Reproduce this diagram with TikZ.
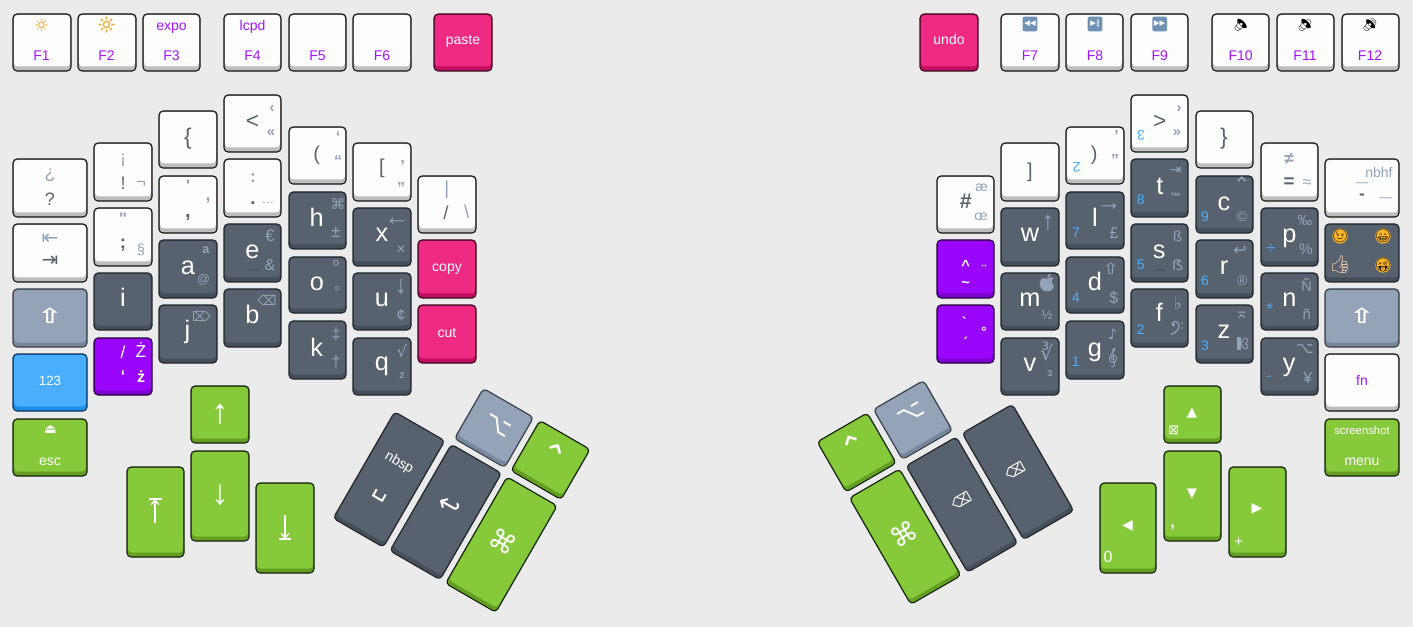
\documentclass[tikz,border=0pt]{standalone}
\usepackage{fontspec}
\setmainfont{Liberation Sans}
\newfontfamily\symfont{DejaVu Sans}
\newfontfamily\emojifont{Noto Emoji}
\usetikzlibrary{calc,arrows.meta}
\definecolor{paper}{HTML}{EBEBEB}
\definecolor{whitetop}{HTML}{FDFDFD}\definecolor{whiteside}{HTML}{BDBDBD}\definecolor{whiteedge}{HTML}{111111}
\definecolor{darktop}{HTML}{58626E}\definecolor{darkside}{HTML}{454E59}\definecolor{darkedge}{HTML}{23272C}
\definecolor{slatetop}{HTML}{94A3B8}\definecolor{slateside}{HTML}{76869C}\definecolor{slateedge}{HTML}{3A4048}
\definecolor{greentop}{HTML}{86CA3C}\definecolor{greenside}{HTML}{649E22}\definecolor{greenedge}{HTML}{141F08}
\definecolor{pinktop}{HTML}{EF2A82}\definecolor{pinkside}{HTML}{C00F60}\definecolor{pinkedge}{HTML}{3A0A20}
\definecolor{purpletop}{HTML}{9A05FB}\definecolor{purpleside}{HTML}{7C00CF}\definecolor{purpleedge}{HTML}{25003D}
\definecolor{bluetop}{HTML}{4AAEFF}\definecolor{blueside}{HTML}{1B8EE8}\definecolor{blueedge}{HTML}{0B3357}
\definecolor{legslate}{HTML}{94A3B8}
\definecolor{legdark}{HTML}{5A6470}
\definecolor{legblue}{HTML}{4AAEFF}
\definecolor{legviolet}{HTML}{A513FF}
\definecolor{sunny}{HTML}{F6A92B}
\definecolor{smiley}{HTML}{FBB62C}
\definecolor{skin}{HTML}{F3CDB0}
\definecolor{mediakey}{HTML}{6F93B5}
\definecolor{lowbar}{HTML}{3F4751}
\tikzset{
  keyside/.style={rectangle,rounded corners=3pt,line width=.8pt,inner sep=0pt,outer sep=0pt},
  keytop/.style={rectangle,rounded corners=2.6pt,inner sep=0pt,outer sep=0pt},
  mainleg/.style={anchor=base,inner sep=0pt,text=white,font=\fontsize{19}{19}\selectfont},
  blackleg/.style={inner sep=0pt,text=legdark,font=\fontsize{17}{17}\selectfont},
  subleg/.style={inner sep=0pt,text=legslate,font=\fontsize{12}{12}\selectfont},
  symleg/.style={inner sep=0pt,text=legslate,font=\symfont\fontsize{11}{11}\selectfont},
  numleg/.style={inner sep=0pt,text=legblue,font=\fontsize{10.5}{11}\selectfont},
  fnleg/.style={anchor=base,inner sep=0pt,text=legviolet,font=\fontsize{10.5}{11}\selectfont},
  wordleg/.style={anchor=base,inner sep=0pt,text=white,font=\fontsize{10.5}{11}\selectfont},
  thumbleg/.style={inner sep=0pt,text=white,font=\symfont\fontsize{17}{17}\selectfont},
  arrowleg/.style={inner sep=0pt,text=white,font=\fontsize{26}{26}\selectfont},
  tinyleg/.style={inner sep=0pt,text=white,font=\symfont\fontsize{10}{10}\selectfont},
  emojileg/.style={inner sep=0pt,text=black,font=\emojifont\fontsize{10}{10}\selectfont},
  facebg/.style={circle,fill=smiley,minimum size=11.5pt,inner sep=0pt},
  mediabg/.style={rectangle,rounded corners=1.5pt,fill=mediakey,minimum width=11pt,minimum height=11pt,inner sep=0pt,text=white,font=\symfont\fontsize{5.5}{6}\selectfont},
  clef/.style={legslate,line width=.7pt},
  barrow/.style={-{Straight Barb[length=3.5pt,width=6pt]},white,line width=1pt},
}
\newcommand{\tiltkey}[7]{%
  \begin{scope}[shift={({#3},{#4})},rotate=#1,transform shape]
    \node[keyside,fill=#7side,draw=#7edge,minimum width={(#5)*.75pt},minimum height={(#6)*.75pt}] (#2) at (0,0) {};
    \node[keytop,fill=#7top,minimum width={((#5)-2.4)*.75pt},minimum height={((#6)-5.6)*.75pt}] (#2top) at (0,-1.7) {};
  \end{scope}}
\newcommand{\keycap}[6]{\tiltkey{0}{#1}{(#2+#4)/2}{(#3+#5)/2}{#4-#2}{#5-#3}{#6}}
\begin{document}
\begin{tikzpicture}[x=.75pt,y=-.75pt]
  \useasboundingbox (0,0) rectangle (1413,627);
  \fill[paper] (0,0) rectangle (1413,627);
  %function row left
  \keycap{fone}{13}{14}{71}{71}{white}
  \keycap{ftwo}{78}{14}{136}{71}{white}
  \keycap{fthree}{143}{14}{200}{71}{white}
  \keycap{ffour}{224}{14}{281}{71}{white}
  \keycap{ffive}{289}{14}{346}{71}{white}
  \keycap{fsix}{353}{14}{411}{71}{white}
  \keycap{paste}{434}{14}{492}{71}{pink}
  %function row right
  \keycap{undo}{920}{14}{978}{71}{pink}
  \keycap{fseven}{1001}{14}{1059}{71}{white}
  \keycap{feight}{1066}{14}{1123}{71}{white}
  \keycap{fnine}{1131}{14}{1188}{71}{white}
  \keycap{ften}{1212}{14}{1269}{71}{white}
  \keycap{feleven}{1277}{14}{1334}{71}{white}
  \keycap{ftwelve}{1342}{14}{1399}{71}{white}
  %left hand columns
  \keycap{quest}{13}{159}{87}{217}{white}
  \keycap{tab}{13}{224}{87}{282}{white}
  \keycap{lshift}{13}{289}{87}{347}{slate}
  \keycap{numlk}{13}{354}{87}{411}{blue}
  \keycap{esc}{13}{419}{87}{476}{green}
  \keycap{bang}{94}{143}{152}{201}{white}
  \keycap{semi}{94}{208}{152}{266}{white}
  \keycap{keyi}{94}{273}{152}{330}{dark}
  \keycap{slash}{94}{338}{152}{395}{purple}
  \keycap{lbrace}{159}{111}{217}{168}{white}
  \keycap{comma}{159}{176}{217}{233}{white}
  \keycap{keya}{159}{240}{217}{298}{dark}
  \keycap{keyj}{159}{305}{217}{363}{dark}
  \keycap{less}{224}{95}{281}{152}{white}
  \keycap{colon}{224}{159}{281}{217}{white}
  \keycap{keye}{224}{224}{281}{282}{dark}
  \keycap{keyb}{224}{289}{281}{347}{dark}
  \keycap{lparen}{289}{127}{346}{184}{white}
  \keycap{keyh}{289}{192}{346}{249}{dark}
  \keycap{keyo}{289}{257}{346}{313}{dark}
  \keycap{keyk}{289}{321}{346}{379}{dark}
  \keycap{lbrack}{353}{143}{411}{201}{white}
  \keycap{keyx}{353}{208}{411}{266}{dark}
  \keycap{keyu}{353}{273}{411}{330}{dark}
  \keycap{keyq}{353}{338}{411}{395}{dark}
  \keycap{bar}{418}{176}{476}{233}{white}
  \keycap{copy}{418}{240}{476}{298}{pink}
  \keycap{cut}{418}{305}{476}{363}{pink}
  %left hand thumbs
  \keycap{up}{191}{386}{249}{443}{green}
  \keycap{down}{191}{451}{249}{541}{green}
  \keycap{home}{127}{467}{184}{557}{green}
  \keycap{endk}{256}{483}{314}{573}{green}
  \tiltkey{-30}{nbsp}{389}{479.5}{58}{123}{dark}
  \tiltkey{-30}{ret}{445.7}{512}{58}{123}{dark}
  \tiltkey{-30}{lcmd}{501.4}{544.6}{58}{123}{green}
  \tiltkey{-30}{lalt}{494}{428}{58}{58}{slate}
  \tiltkey{-30}{lctrl}{550.5}{460}{58}{58}{green}
  %right hand columns
  \keycap{hash}{937}{176}{994}{233}{white}
  \keycap{caret}{937}{240}{994}{298}{purple}
  \keycap{grave}{937}{305}{994}{363}{purple}
  \keycap{rbrack}{1001}{143}{1059}{201}{white}
  \keycap{keyw}{1001}{208}{1059}{266}{dark}
  \keycap{keym}{1001}{273}{1059}{330}{dark}
  \keycap{keyv}{1001}{338}{1059}{395}{dark}
  \keycap{rparen}{1066}{127}{1124}{184}{white}
  \keycap{keyl}{1066}{192}{1124}{249}{dark}
  \keycap{keyd}{1066}{257}{1124}{313}{dark}
  \keycap{keyg}{1066}{321}{1124}{379}{dark}
  \keycap{more}{1131}{95}{1188}{152}{white}
  \keycap{keyt}{1131}{159}{1188}{217}{dark}
  \keycap{keys}{1131}{224}{1188}{282}{dark}
  \keycap{keyf}{1131}{289}{1188}{347}{dark}
  \keycap{rbrace}{1196}{111}{1253}{168}{white}
  \keycap{keyc}{1196}{176}{1253}{233}{dark}
  \keycap{keyr}{1196}{240}{1253}{298}{dark}
  \keycap{keyz}{1196}{305}{1253}{363}{dark}
  \keycap{equal}{1261}{143}{1318}{201}{white}
  \keycap{keyp}{1261}{208}{1318}{266}{dark}
  \keycap{keyn}{1261}{273}{1318}{330}{dark}
  \keycap{keyy}{1261}{338}{1318}{395}{dark}
  \keycap{nbhf}{1325}{159}{1399}{217}{white}
  \keycap{emoji}{1325}{224}{1399}{282}{dark}
  \keycap{rshift}{1325}{289}{1399}{347}{slate}
  \keycap{fnkey}{1325}{354}{1399}{411}{white}
  \keycap{menu}{1325}{419}{1399}{476}{green}
  %right hand thumbs
  \keycap{arup}{1164}{386}{1221}{443}{green}
  \keycap{ardn}{1164}{451}{1221}{541}{green}
  \keycap{arrt}{1229}{467}{1286}{557}{green}
  \keycap{arlf}{1100}{483}{1156}{573}{green}
  \tiltkey{30}{rctrl}{856.7}{452.5}{58}{58}{green}
  \tiltkey{30}{ralt}{913}{420}{58}{58}{slate}
  \tiltkey{30}{rcmd}{905.2}{536.7}{58}{123}{green}
  \tiltkey{30}{bksp}{961.9}{504.6}{58}{123}{dark}
  \tiltkey{30}{delk}{1018}{472}{58}{123}{dark}
  %function row labels
  \node[inner sep=0pt,text=sunny,font=\emojifont\fontsize{9}{9}\selectfont] (sunlo) at (41.5,25) {🔅};
  \node[fnleg] (fonet) at (41.5,60.5) {F1};
  \node[inner sep=0pt,text=sunny,font=\emojifont\fontsize{12}{12}\selectfont] (sunhi) at (106.5,25) {🔆};
  \node[fnleg] (ftwot) at (106.5,60.5) {F2};
  \node[fnleg] (expo) at (171.5,31) {expo};
  \node[fnleg] (fthreet) at (171.5,60.5) {F3};
  \node[fnleg] (lcpd) at (252.5,31) {lcpd};
  \node[fnleg] (ffourt) at (252.5,60.5) {F4};
  \node[fnleg] (ffivet) at (317.5,60.5) {F5};
  \node[fnleg] (fsixt) at (382,60.5) {F6};
  \node[wordleg] (pastet) at (463,45) {paste};
  \node[wordleg] (undot) at (949,45) {undo};
  \node[mediabg] (rew) at (1030,24) {◀◀};
  \node[fnleg] (fsevent) at (1030,60.5) {F7};
  \node[mediabg] (play) at (1095,24) {▶‖};
  \node[fnleg] (feightt) at (1095,60.5) {F8};
  \node[mediabg] (ffw) at (1159.7,24) {▶▶};
  \node[fnleg] (fninet) at (1159.7,60.5) {F9};
  \node[emojileg,font=\emojifont\fontsize{9}{9}\selectfont] (mute) at (1240.7,25) {🔈};
  \node[fnleg] (ftent) at (1240.7,60.5) {F10};
  \node[emojileg,font=\emojifont\fontsize{9}{9}\selectfont] (vold) at (1305,25) {🔉};
  \node[fnleg] (felevent) at (1305,60.5) {F11};
  \node[emojileg,font=\emojifont\fontsize{9}{9}\selectfont] (volu) at (1370,25) {🔊};
  \node[fnleg] (ftwelvet) at (1370,60.5) {F12};
  %left white keys labels
  \node[subleg,font=\fontsize{13.5}{14}\selectfont] (iquest) at (50,175) {¿};
  \node[subleg,text=legdark,font=\fontsize{13.5}{14}\selectfont] (questt) at (50,199) {?};
  \node[symleg,font=\symfont\fontsize{15}{15}\selectfont] (backtab) at (50,239) {⇤};
  \node[symleg,text=legdark,font=\symfont\fontsize{15}{15}\selectfont] (tabt) at (50,261) {⇥};
  \node[subleg,font=\fontsize{13.5}{14}\selectfont] (ibang) at (123,160) {¡};
  \node[subleg,text=legdark,font=\fontsize{13.5}{14}\selectfont] (bangt) at (123,183) {!};
  \node[subleg,font=\fontsize{12.5}{13}\selectfont] (notk) at (141,184) {¬};
  \node[subleg,font=\bfseries\fontsize{12.5}{13}\selectfont] (dquote) at (123,219) {\textquotedbl};
  \node[subleg,text=legdark,font=\bfseries\fontsize{14}{14}\selectfont] (semit) at (123,245) {;};
  \node[subleg,font=\fontsize{11}{11}\selectfont] (sect) at (141,250) {§};
  \node[blackleg] (lbracet) at (188,139) {\{};
  \node[subleg,font=\bfseries\fontsize{12.5}{13}\selectfont] (squote) at (188,186) {\textquotesingle};
  \node[subleg,text=legdark,font=\bfseries\fontsize{15}{15}\selectfont] (commat) at (188,218) {,};
  \node[subleg,font=\bfseries\fontsize{13}{13}\selectfont] (lowq) at (208,201) {,};
  \node[blackleg] (lesst) at (252.5,122) {<};
  \node[subleg,font=\bfseries\fontsize{11}{11}\selectfont] (sangl) at (272,109) {‹};
  \node[subleg,font=\bfseries\fontsize{11}{11}\selectfont] (dangl) at (271,133) {«};
  \node[subleg,font=\bfseries\fontsize{13}{13}\selectfont] (colont) at (253,178) {:};
  \node[subleg,text=legdark,font=\bfseries\fontsize{14}{14}\selectfont] (dot) at (253,203) {.};
  \node[subleg,font=\fontsize{9.5}{10}\selectfont] (ellip) at (268,203) {…};
  \node[blackleg,font=\fontsize{15}{15}\selectfont] (lparent) at (316.7,155) {(};
  \node[subleg,font=\bfseries\fontsize{12}{12}\selectfont] (lsq) at (338,137) {‘};
  \node[subleg,font=\bfseries\fontsize{12}{12}\selectfont] (ldq) at (338,161) {“};
  \node[blackleg,font=\fontsize{15}{15}\selectfont] (lbrackt) at (382,168) {[};
  \node[subleg,font=\bfseries\fontsize{12}{12}\selectfont] (rsq) at (402.7,166) {’};
  \node[subleg,font=\bfseries\fontsize{12}{12}\selectfont] (rdq) at (401,188) {”};
  \node[subleg,font=\fontsize{14}{14}\selectfont] (bart) at (446.7,190) {|};
  \node[blackleg,font=\fontsize{14}{14}\selectfont] (slasht) at (446,213) {/};
  \node[subleg,font=\fontsize{14}{14}\selectfont] (bslash) at (466.7,212) {\textbackslash};
  %left dark keys labels
  \node[mainleg] (lti) at (123,306.7) {i};
  \node[mainleg] (lta) at (188,275) {a};
  \node[subleg,font=\bfseries\fontsize{9.5}{10}\selectfont] (ordfa) at (206,250) {a};
  \node[subleg,font=\fontsize{9.5}{10}\selectfont] (atk) at (203.5,280) {@};
  \node[mainleg] (ltj) at (187.5,338) {j};
  \node[symleg,font=\symfont\fontsize{10}{10}\selectfont] (jdel) at (201.5,316.5) {⌦};
  \node[mainleg] (lte) at (252.5,258) {e};
  \node[subleg,font=\fontsize{12.5}{13}\selectfont] (euro) at (270,236) {€};
  \node[subleg,font=\fontsize{12}{12}\selectfont] (amp) at (270,265) {\&};
  \node[subleg,text=lowbar,font=\fontsize{8.5}{9}\selectfont] (ebar) at (253,272) {—};
  \node[mainleg] (ltb) at (252.5,323) {b};
  \node[symleg,font=\symfont\fontsize{10}{10}\selectfont] (bbksp) at (267,300) {⌫};
  \node[mainleg] (lth) at (316.7,227) {h};
  \node[symleg] (hcmd) at (338,204) {⌘};
  \node[subleg,font=\fontsize{13}{13}\selectfont] (plusm) at (336,232) {±};
  \node[mainleg] (lto) at (317,290.7) {o};
  \node[subleg] (ordmo) at (336,266) {º};
  \node[subleg] (degr) at (337,292) {°};
  \node[mainleg] (ltk) at (316.7,356) {k};
  \node[subleg] (ddag) at (336,334) {‡};
  \node[subleg] (dagg) at (336,362) {†};
  \node[mainleg] (ltx) at (382,241.7) {x};
  \node[subleg,font=\fontsize{19}{19}\selectfont] (xleft) at (397,222) {←};
  \node[subleg] (times) at (401,250) {×};
  \node[mainleg] (ltu) at (382,306.7) {u};
  \node[subleg,font=\fontsize{19}{19}\selectfont] (udown) at (401,287) {↓};
  \node[subleg] (cent) at (401,315) {¢};
  \node[mainleg] (ltq) at (382,370) {q};
  \node[symleg,font=\symfont\fontsize{12}{12}\selectfont] (qroot) at (402,351) {√};
  \node[subleg,font=\bfseries\fontsize{6.5}{7}\selectfont] (qtwo) at (402,375) {2};
  %left coloured keys labels
  \node[thumbleg,font=\symfont\bfseries\fontsize{15}{15}\selectfont] (lshiftt) at (50,316) {\scalebox{1.5}[1.05]{⇧}};
  \node[wordleg,font=\fontsize{10}{11}\selectfont] (numt) at (50,385) {123};
  \node[tinyleg] (eject) at (50.5,430) {⏏};
  \node[wordleg] (esct) at (50,465) {esc};
  \node[wordleg,font=\fontsize{13}{13}\selectfont] (slashp) at (123,358) {/};
  \node[wordleg,font=\fontsize{13}{13}\selectfont] (zdotu) at (141,357) {Ż};
  \node[wordleg,font=\bfseries\fontsize{12}{12}\selectfont] (openq) at (123,381) {‘};
  \node[wordleg,font=\bfseries\fontsize{12}{12}\selectfont] (zdotl) at (141,382) {ż};
  \node[wordleg] (copyt) at (447,272) {copy};
  \node[wordleg] (cutt) at (447,337) {cut};
  %left thumb labels
  \node[arrowleg] (upt) at (220,414) {↑};
  \node[arrowleg] (downt) at (220,495) {↓};
  \coordinate (homebar) at (155,499);
  \coordinate (homefoot) at (155,523);
  \draw[barrow] (homefoot) -- (homebar);
  \draw[white,line width=1pt] ($(homebar)+(-6.5,0)$) -- ($(homebar)+(6.5,0)$);
  \coordinate (endbar) at (285,539);
  \coordinate (endhead) at (285,515);
  \draw[barrow] (endhead) -- (endbar);
  \draw[white,line width=1pt] ($(endbar)+(-6,0)$) -- ($(endbar)+(6,0)$);
  \node[wordleg,anchor=center,rotate=-30] (nbspt) at (399,462.7) {nbsp};
  \node[thumbleg,rotate=-30,font=\symfont\fontsize{19}{19}\selectfont] (spacet) at (380,496) {␣};
  \node[thumbleg,rotate=-30,font=\symfont\fontsize{20}{20}\selectfont] (rett) at (448.5,507) {↩};
  \node[thumbleg,rotate=-30,font=\symfont\fontsize{20}{20}\selectfont] (lcmdt) at (503,541.7) {⌘};
  \node[thumbleg,rotate=-30,font=\symfont\fontsize{18}{18}\selectfont] (laltt) at (497.5,425) {⌥};
  \node[thumbleg,rotate=-30,font=\symfont\fontsize{24}{24}\selectfont] (lctrlt) at (553,455) {⌃};
  %right white keys labels
  \node[blackleg,font=\bfseries\fontsize{16}{16}\selectfont] (hasht) at (965.7,201.7) {\#};
  \node[subleg,font=\fontsize{10.5}{11}\selectfont] (aelig) at (981.7,188) {æ};
  \node[subleg,font=\fontsize{10.5}{11}\selectfont] (oelig) at (981,217) {œ};
  \node[blackleg,font=\fontsize{15}{15}\selectfont] (rbrackt) at (1030,172) {]};
  \node[blackleg,font=\fontsize{15}{15}\selectfont] (rparent) at (1094.3,155) {)};
  \node[subleg,font=\bfseries\fontsize{12}{12}\selectfont] (rsqb) at (1116.5,136) {’};
  \node[subleg,font=\bfseries\fontsize{12}{12}\selectfont] (rdqb) at (1115,160) {”};
  \node[numleg,rotate=180] (turntwo) at (1076.7,167) {2};
  \node[blackleg] (moret) at (1159.7,122) {>};
  \node[subleg,font=\bfseries\fontsize{11}{11}\selectfont] (sangr) at (1179,109) {›};
  \node[subleg,font=\bfseries\fontsize{11}{11}\selectfont] (dangr) at (1177,133) {»};
  \node[numleg,rotate=180] (turnthree) at (1141,135) {3};
  \node[blackleg] (rbracet) at (1224,139) {\}};
  \node[subleg,font=\bfseries\fontsize{13}{13}\selectfont] (neq) at (1289,159) {≠};
  \node[subleg,text=legdark,font=\bfseries\fontsize{14}{14}\selectfont] (eqt) at (1289,183) {=};
  \node[subleg,font=\fontsize{12}{12}\selectfont] (aprx) at (1307,184) {≈};
  \node[subleg,font=\fontsize{10.5}{11}\selectfont] (nbhft) at (1379,172) {nbhf};
  \node[subleg,font=\fontsize{9.5}{10}\selectfont] (emd) at (1362,185) {—};
  \node[subleg,text=legdark,font=\bfseries\fontsize{13}{13}\selectfont] (mnsa) at (1362,197) {-};
  \node[subleg,font=\fontsize{9.5}{10}\selectfont] (undsc) at (1385.7,200) {—};
  %right dark keys labels
  \node[mainleg] (ltt) at (1160,195) {t};
  \node[symleg,font=\symfont\fontsize{10.5}{11}\selectfont] (ttab) at (1175.7,171) {⇥};
  \node[subleg,font=\bfseries\fontsize{8}{8}\selectfont] (ttm) at (1175.7,197) {™};
  \node[numleg] (numeight) at (1140.7,200) {8};
  \node[mainleg] (ltc) at (1224,211) {c};
  \node[symleg,font=\symfont\fontsize{16}{16}\selectfont] (cctl) at (1241.7,185) {⌃};
  \node[subleg,font=\fontsize{10.5}{11}\selectfont] (copyr) at (1242,216.7) {©};
  \node[numleg] (numnine) at (1205,217) {9};
  \node[mainleg] (ltw) at (1030,241.7) {w};
  \node[subleg,font=\fontsize{19}{19}\selectfont] (wup) at (1048,223) {↑};
  \node[mainleg] (ltl) at (1095,226.7) {l};
  \node[subleg,font=\fontsize{19}{19}\selectfont] (lright) at (1109,207) {→};
  \node[subleg] (pound) at (1114,233) {£};
  \node[numleg] (numseven) at (1076,233) {7};
  \node[mainleg] (lts) at (1159.3,258.3) {s};
  \node[subleg,font=\fontsize{11}{11}\selectfont] (sharp) at (1177.7,236) {ß};
  \node[symleg] (sharpu) at (1177.7,265) {ẞ};
  \node[numleg] (numfive) at (1140.7,265) {5};
  \node[subleg,text=lowbar,font=\fontsize{8.5}{9}\selectfont] (sbar) at (1160,272) {—};
  \node[mainleg] (ltr) at (1224,275) {r};
  \node[symleg,font=\symfont\fontsize{12}{12}\selectfont] (renter) at (1240,251) {↩};
  \node[subleg,font=\fontsize{10.5}{11}\selectfont] (regd) at (1242,281) {®};
  \node[numleg] (numsix) at (1205,281) {6};
  \node[mainleg] (ltp) at (1289.3,243) {p};
  \node[subleg,font=\fontsize{11}{11}\selectfont] (permil) at (1305,220) {‰};
  \node[subleg,font=\fontsize{11.5}{12}\selectfont] (prcnt) at (1306,249) {\%};
  \node[numleg,font=\fontsize{12}{12}\selectfont] (divd) at (1271,249) {÷};
  \node[mainleg] (ltm) at (1030,306.7) {m};
  \fill[legslate] (1047,279) .. controls (1042,276) and (1039,281) .. (1040,285) .. controls (1041,290) and (1044,292) .. (1047,291) .. controls (1050,292) and (1053,290) .. (1054,286) .. controls (1051,284) and (1051,280) .. (1053.5,278.5) .. controls (1051,276) and (1049,278) .. (1047,279) -- cycle;
  \fill[legslate] (1047,278) .. controls (1047,275) and (1049,274) .. (1050.5,273.5) .. controls (1050.5,276) and (1049,278) .. (1047,278) -- cycle;
  \node[subleg,font=\fontsize{10}{10}\selectfont] (half) at (1047,315) {½};
  \node[mainleg] (ltd) at (1095,290.7) {d};
  \node[symleg,font=\symfont\fontsize{11}{11}\selectfont] (dshft) at (1110.7,269) {\scalebox{1.4}[1.05]{⇧}};
  \node[subleg] (dollar) at (1113.7,298) {\$};
  \node[numleg] (numfour) at (1076,298) {4};
  \node[mainleg] (ltf) at (1159.3,321.7) {f};
  \node[symleg,font=\symfont\fontsize{13}{13}\selectfont] (flat) at (1177.7,303) {♭};
  %bass clef
  \draw[clef,line width=.9pt] (1172,325) .. controls (1172,320) and (1179,320) .. (1179,326) .. controls (1179,330) and (1175,333) .. (1171,334.5);
  \fill[legslate] (1173.5,325) circle (1.7);
  \fill[legslate] (1182,323) circle (.9);
  \fill[legslate] (1182,328) circle (.9);
  \node[numleg] (numtwo) at (1140.7,330) {2};
  \node[mainleg] (ltz) at (1224,338) {z};
  \node[symleg,font=\symfont\fontsize{12}{12}\selectfont] (zhome) at (1241.7,315) {⌅};
  %alto clef
  \fill[legslate] (1237,337) rectangle (1239.5,350);
  \fill[legslate] (1240.3,337) rectangle (1241,350);
  \draw[clef] (1241.5,343.5) .. controls (1243,341) and (1243,338) .. (1245,338) .. controls (1248.5,338) and (1248.5,343) .. (1245,343.2);
  \draw[clef] (1241.5,343.5) .. controls (1243,346) and (1243,349) .. (1245,349) .. controls (1248.5,349) and (1248.5,344) .. (1245,343.8);
  \node[numleg] (numthree) at (1205,346) {3};
  \node[mainleg] (ltn) at (1289.3,306.7) {n};
  \node[subleg,font=\fontsize{11}{11}\selectfont] (ntilu) at (1306.7,285) {Ñ};
  \node[subleg,font=\fontsize{11}{11}\selectfont] (ntill) at (1306.7,314) {ñ};
  \node[numleg,font=\fontsize{12}{12}\selectfont] (stark) at (1269.7,309) {*};
  \node[mainleg] (ltv) at (1030,371.7) {v};
  \node[symleg,font=\symfont\fontsize{15}{15}\selectfont] (vroot) at (1046.7,351) {∛};
  \node[subleg,font=\bfseries\fontsize{6.5}{7}\selectfont] (vthree) at (1050,374) {3};
  \node[mainleg] (ltg) at (1095,356.7) {g};
  \node[symleg,font=\symfont\fontsize{11}{11}\selectfont] (note) at (1112.7,334) {♪};
  %treble clef
  \draw[clef] (1113.5,360) .. controls (1111,360) and (1111,356) .. (1113.5,355.5) .. controls (1117,355) and (1118,361) .. (1113.5,362.5) .. controls (1109,363.5) and (1108.5,358) .. (1111,354.5) .. controls (1113,352) and (1115.5,349.5) .. (1114.8,348.5) .. controls (1114,347.5) and (1112.5,349) .. (1112.8,352) -- (1114.6,365) .. controls (1115,367.5) and (1111.5,367.5) .. (1111.5,365.5);
  \node[numleg] (numone) at (1075.7,362) {1};
  \node[mainleg] (lty) at (1289.3,371.7) {y};
  \node[symleg,font=\symfont\fontsize{11.5}{12}\selectfont] (yalt) at (1305,349) {⌥};
  \node[subleg] (yen) at (1307.7,378) {¥};
  \node[numleg] (minsy) at (1269,378) {-};
  %right coloured keys labels
  \node[wordleg,font=\bfseries\fontsize{11}{11}\selectfont] (caretp) at (965.7,271) {\textasciicircum};
  \node[wordleg,font=\bfseries\fontsize{11}{11}\selectfont] (tildep) at (965.7,287) {\textasciitilde};
  \node[wordleg,font=\bfseries\fontsize{10}{10}\selectfont] (umlp) at (984,275) {¨};
  \node[inner sep=0pt,text=white,align=center,font=\symfont\bfseries\fontsize{10}{7}\selectfont] (gravep) at (965,328) {\textasciigrave\\ˏ};
  \node[wordleg,font=\bfseries\fontsize{10}{10}\selectfont] (ringp) at (984,336) {°};
  \node[thumbleg,font=\symfont\bfseries\fontsize{15}{15}\selectfont] (rshiftt) at (1362,316) {\scalebox{1.5}[1.05]{⇧}};
  \node[fnleg] (fnt) at (1362,385) {fn};
  \node[wordleg,font=\fontsize{8.5}{9}\selectfont] (shot) at (1362,434) {screenshot};
  \node[wordleg] (menut) at (1362,465) {menu};
  %emoji
  \node[facebg] (winkbg) at (1340,236) {};
  \node[emojileg] (wink) at (1340,236) {😉};
  \node[facebg] (grinbg) at (1383,236) {};
  \node[emojileg] (grin) at (1383,236) {😁};
  \node[emojileg,text=skin,font=\emojifont\fontsize{13}{13}\selectfont] (thumb) at (1340,265) {👍};
  \node[facebg] (tongbg) at (1383,265) {};
  \node[emojileg] (tong) at (1383,265) {😜};
  %right thumb labels
  \node[thumbleg,font=\symfont\fontsize{10}{10}\selectfont] (arupt) at (1192,413) {▲};
  \node[tinyleg] (arupx) at (1173.7,430.5) {⊠};
  \node[thumbleg,font=\symfont\fontsize{10}{10}\selectfont] (ardnt) at (1192,494) {▼};
  \node[wordleg,font=\bfseries\fontsize{12}{12}\selectfont] (ardnx) at (1172.5,527) {,};
  \node[thumbleg,font=\symfont\fontsize{10.5}{11}\selectfont] (arrtt) at (1257,509) {▶};
  \node[wordleg,font=\fontsize{11}{11}\selectfont] (arrtx) at (1238.6,546) {+};
  \node[thumbleg,font=\symfont\fontsize{10.5}{11}\selectfont] (arlft) at (1127.6,526) {◀};
  \node[wordleg,font=\fontsize{12}{12}\selectfont] (arlfx) at (1108,562) {0};
  \node[thumbleg,rotate=30,font=\symfont\fontsize{24}{24}\selectfont] (rctrlt) at (854.7,446.7) {⌃};
  \node[thumbleg,rotate=30,font=\symfont\fontsize{18}{18}\selectfont] (raltt) at (911.4,414) {⌥};
  \node[thumbleg,rotate=30,font=\symfont\fontsize{20}{20}\selectfont] (rcmdt) at (903.6,534) {⌘};
  \node[thumbleg,rotate=30,font=\symfont\fontsize{11}{11}\selectfont] (bkspt) at (961.4,500) {⌫};
  \node[thumbleg,rotate=30,font=\symfont\fontsize{11}{11}\selectfont] (delkt) at (1015,470) {⌫};
\end{tikzpicture}
\end{document}
